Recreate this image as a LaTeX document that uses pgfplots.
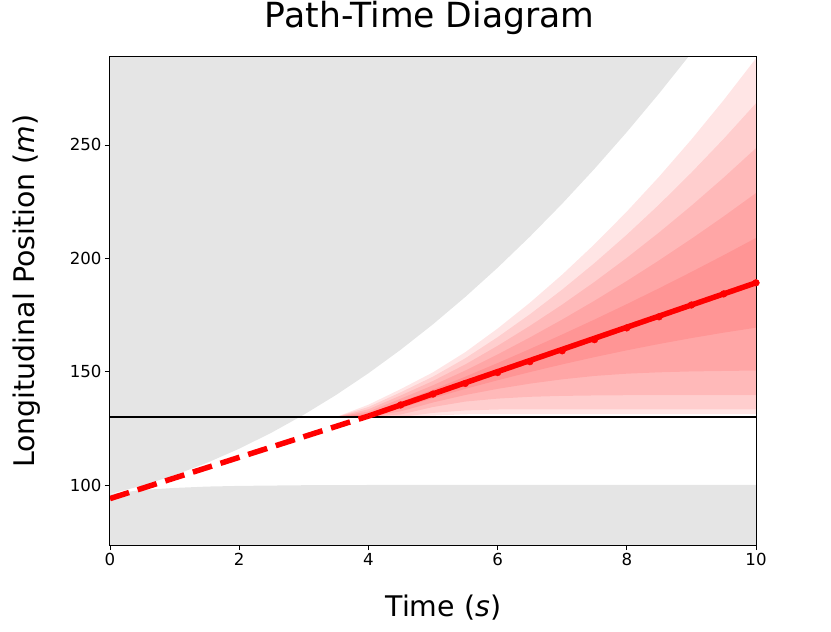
\documentclass[border=0pt]{standalone}
\usepackage{fontspec}
\setmainfont{DejaVu Sans}
\usepackage{pgfplots}
\pgfplotsset{compat=1.18}
\begin{document}
\begin{tikzpicture}
\begin{axis}[
  scale only axis, width=646bp, height=488bp,
  xmin=0, xmax=10, ymin=73.53, ymax=288.8,
  axis on top,
  xtick={0,2,...,10}, ytick={100,150,200,250},
  tick align=outside, xtick pos=bottom, ytick pos=left,
  major tick length=5bp,
  tick style={black, line width=0.9bp},
  axis line style={line width=1bp},
  /pgf/number format/assume math mode=true,
  ticklabel style={font=\fontsize{16.6bp}{20bp}\selectfont},
  title={Path-Time Diagram},
  title style={at={(axis description cs:0.495,1)}, anchor=base, yshift=24bp, font=\fontsize{34.6bp}{40bp}\selectfont},
  xlabel={Time (\textit{s})},
  xlabel style={at={(axis description cs:0.516,-0.1475)}, anchor=base, font=\fontsize{28.4bp}{32bp}\selectfont},
  ylabel={Longitudinal Position (\textit{m})},
  ylabel style={at={(axis description cs:-0.1161,0.52)}, anchor=base, font=\fontsize{28.4bp}{32bp}\selectfont},
]
% upper gray region
\addplot[draw=none, fill=black!10] coordinates {
 (0,300) (0,96) (0.5,99.76) (1,104.34) (1.5,109.76) (2,116.0) (2.5,123.08) (3,131.0) (3.5,139.72)
 (4,149.28) (4.5,159.68) (5,170.9) (5.5,182.96) (6,195.84) (6.5,209.56) (7,224.1) (7.5,239.48)
 (8,255.68) (8.5,272.72) (9,290.58) (9,300)} -- cycle;
% lower gray region
\addplot[draw=none, fill=black!10] coordinates {
 (0,60) (0,96) (0.5,97.8) (1,98.7) (1.5,99.3) (2,99.6) (3,99.9) (4,100) (10,100) (10,60)} -- cycle;
% fan k=5
\addplot[draw=none, fill=red, fill opacity=0.1] coordinates {
 (3.5,130) (4,135.4) (4.5,142.3) (5,149.7) (5.5,158.6) (6,169.0) (6.5,180.4) (7,192.8) (7.5,206.2)
 (8,220.6) (8.5,236.0) (9,252.4) (9.5,269.8) (10,288.2)
 (10,131.3) (6,131.3) (5.5,131.2) (5,130.6) (4.5,130) (4,130) (3.5,130)} -- cycle;
% fan k=4
\addplot[draw=none, fill=red, fill opacity=0.1] coordinates {
 (3.5,130) (4,134.4) (4.5,140.9) (5,147.8) (5.5,155.9) (6,165.2) (6.5,175.3) (7,186.2) (7.5,197.9)
 (8,210.4) (8.5,223.7) (9,237.8) (9.5,252.7) (10,268.4)
 (10,133.4) (6.5,133.4) (6,133.3) (5.5,132.9) (5,131.8) (4.5,130) (4,130) (3.5,130)} -- cycle;
% fan k=3
\addplot[draw=none, fill=red, fill opacity=0.1] coordinates {
 (3.5,130) (4,133.4) (4.5,139.5) (5,145.9) (5.5,153.2) (6,161.4) (6.5,170.2) (7,179.6) (7.5,189.6)
 (8,200.2) (8.5,211.4) (9,223.2) (9.5,235.6) (10,248.6)
 (10,139.6) (8,139.6) (7.5,139.5) (7,139.3) (6.5,138.9) (6,138.1) (5.5,136.8) (5,134.4) (4.5,131.1) (4,130) (3.5,130)} -- cycle;
% fan k=2
\addplot[draw=none, fill=red, fill opacity=0.1] coordinates {
 (3.5,130) (4,132.4) (4.5,138.1) (5,144.0) (5.5,150.5) (6,157.6) (6.5,165.1) (7,173.0) (7.5,181.3)
 (8,190.0) (8.5,199.1) (9,208.6) (9.5,218.5) (10,228.8)
 (10,150.5) (9.5,150.3) (9,150.1) (8.5,149.7) (8,149.1) (7.5,148.1) (7,146.6) (6.5,144.7) (6,142.4)
 (5.5,139.7) (5,136.4) (4.5,132.5) (4,130) (3.5,130)} -- cycle;
% fan k=1
\addplot[draw=none, fill=red, fill opacity=0.1] coordinates {
 (3.5,130) (4,131.4) (4.5,136.7) (5,142.1) (5.5,147.8) (6,153.8) (6.5,160.0) (7,166.4) (7.5,173.0)
 (8,179.8) (8.5,186.8) (9,194.0) (9.5,201.4) (10,209.0)
 (10,169.4) (9.5,167.2) (9,164.8) (8.5,162.2) (8,159.4) (7.5,156.4) (7,153.2) (6.5,149.8) (6,146.2)
 (5.5,142.4) (5,138.3) (4.5,133.9) (4,130) (3.5,130)} -- cycle;
% horizontal line
\addplot[black, line width=1.8bp] coordinates {(0,130) (10,130)};
% dashed part
\addplot[red, line width=5.5bp, dash pattern=on 20bp off 9bp] coordinates {(0,94.0) (4,130.4)};
% solid part
\addplot[red, line width=5.5bp] coordinates {(4,130.4) (10,189.2)};
\addplot[red, only marks, mark=*, mark size=3.4bp] coordinates {
 (4.5,135.3) (5,140.1) (5.5,144.8) (6,149.6) (6.5,154.4) (7,159.2) (7.5,164.1)
 (8,169.3) (8.5,174.2) (9,179.4) (9.5,184.3) (10,189.2)};
\end{axis}
\pgfresetboundingbox
\path[use as bounding box] ([shift={(-110bp,-87bp)}]current axis.south west) rectangle ([shift={(75bp,57bp)}]current axis.north east);
\end{tikzpicture}
\end{document}
